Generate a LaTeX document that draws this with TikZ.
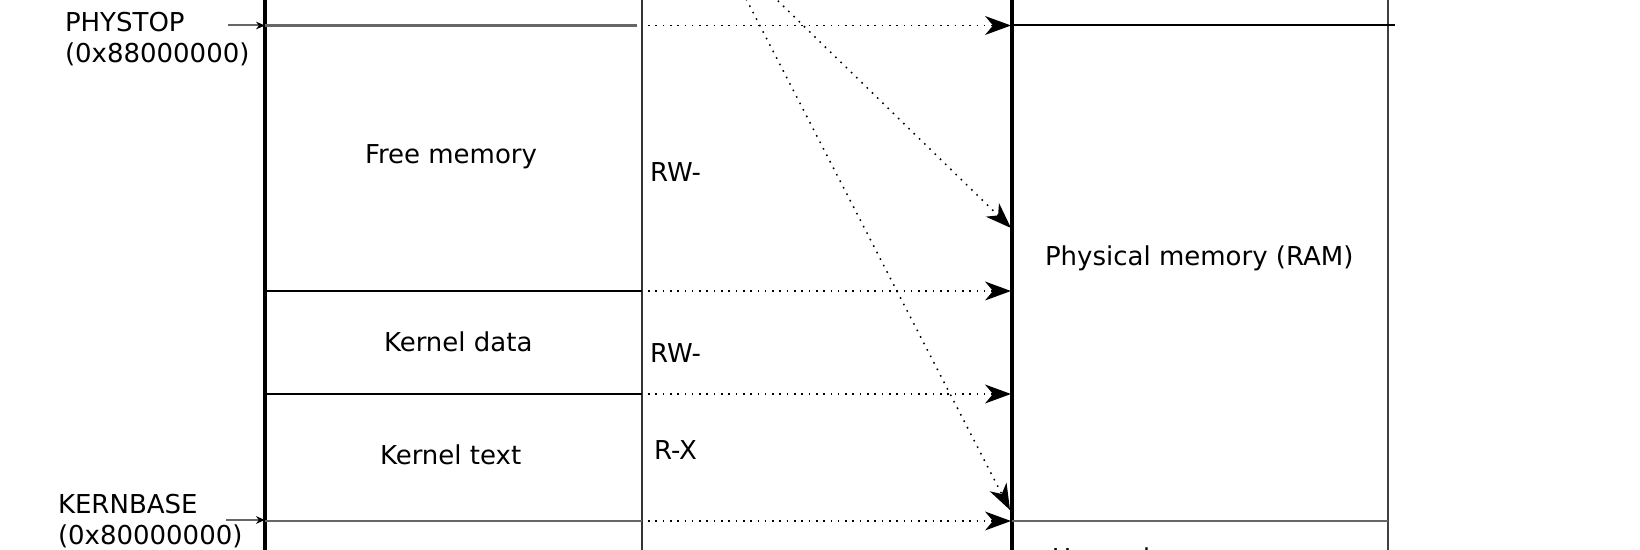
\documentclass[tikz,border=0pt]{standalone}
\usepackage{fontspec}
\setmainfont{DejaVu Sans}
\usetikzlibrary{arrows.meta}
\begin{document}
\begin{tikzpicture}[x=0.5pt,y=-0.5pt,
  every node/.style={inner sep=0pt,outer sep=0pt,font=\fontsize{13}{15}\selectfont},
  lbl/.style={anchor=base west},
  colline/.style={line width=1.6pt,black},
  sepline/.style={line width=1pt,black},
  greyline/.style={line width=1.3pt,black!60},
  mapline/.style={line width=0.75pt,dash pattern=on 0.8pt off 2.85pt,
    -{Stealth[length=13pt,width=9.5pt,inset=4pt,line width=0pt]}},
  addrarrow/.style={line width=1pt,black!60,-{Stealth[length=4.5pt,width=3.8pt,black]}}
]
\useasboundingbox (0,0) rectangle (1640,550);
\clip (0,0) rectangle (1640,550);
% coordinates
\coordinate (vtop)   at (265,25.5);
\coordinate (vtopR)  at (637,25.5);
\coordinate (vfree)  at (265,291);
\coordinate (vfreeR) at (642,291);
\coordinate (vdata)  at (265,394);
\coordinate (vdataR) at (642,394);
\coordinate (vbase)  at (265,521);
\coordinate (vbaseR) at (642,521);
\coordinate (ptop)   at (1012,25.5);
\coordinate (ptopR)  at (1395,25.5);
\coordinate (pbase)  at (1012,521);
\coordinate (pbaseR) at (1388,521);
% columns
\draw[colline] (265,-20) -- (265,570);
\draw[line width=1.4pt,black!80] (642,-20) -- (642,570);
\draw[colline] (1012,-20) -- (1012,570);
\draw[line width=1.4pt,black!75] (1388,-20) -- (1388,570);
% horizontal separators
\draw[greyline] (vtop) -- (vtopR);
\draw[sepline] (vfree) -- (vfreeR);
\draw[sepline] (vdata) -- (vdataR);
\draw[greyline] (vbase) -- (vbaseR);
\draw[sepline] (ptop) -- (ptopR);
\draw[greyline] (pbase) -- (pbaseR);
% address labels
\node[lbl] (phys)   at (65,32)  {PHYSTOP};
\node[lbl] (physa)  at (65,63)  {(0x88000000)};
\node[lbl] (kbase)  at (58,514) {KERNBASE};
\node[lbl] (kbasea) at (58,545) {(0x80000000)};
\coordinate (physarr) at (228,25.5);
\coordinate (kbasearr) at (226,520);
\draw[addrarrow] (physarr) -- (vtop);
\draw[addrarrow] (kbasearr) -- ([yshift=0.5pt]vbase);
% region labels
\node[lbl] (free)  at (365,164) {Free memory};
\node[lbl] (kdata) at (384,352) {Kernel data};
\node[lbl] (ktext) at (380,465) {Kernel text};
\node[lbl] (rw1)   at (650,182) {RW-};
\node[lbl] (rw2)   at (650,363) {RW-};
\node[lbl] (rx)    at (654,460) {R-X};
\node[lbl] (ram)   at (1045,266) {Physical memory (RAM)};
\node[lbl] (unused) at (1052,568) {Unused};
% mapping arrows
\coordinate (m1s) at (648,25.5);  \coordinate (m1e) at (1011,25.5);
\coordinate (m2s) at (648,291);   \coordinate (m2e) at (1011,291);
\coordinate (m3s) at (648,394);   \coordinate (m3e) at (1011,394);
\coordinate (m4s) at (648,521);   \coordinate (m4e) at (1011,521);
\draw[mapline] (m1s) -- (m1e);
\draw[mapline] (m2s) -- (m2e);
\draw[mapline] (m3s) -- (m3e);
\draw[mapline] (m4s) -- (m4e);
\coordinate (d1s) at (736,-40);  \coordinate (d1e) at (1011,228);
\coordinate (d2s) at (726,-40);  \coordinate (d2e) at (1010,510);
\draw[mapline] (d1s) -- (d1e);
\draw[mapline] (d2s) -- (d2e);
\end{tikzpicture}
\end{document}
